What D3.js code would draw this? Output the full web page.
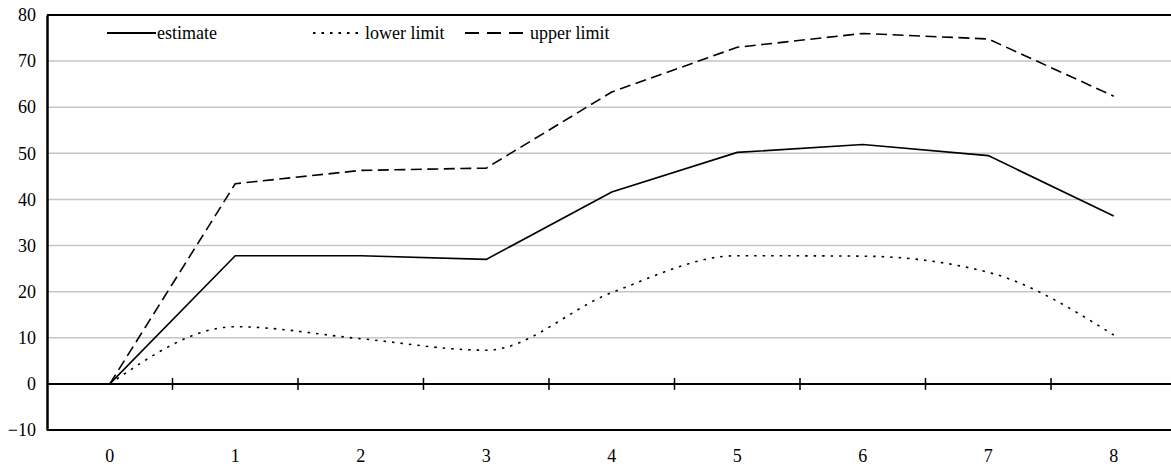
<!DOCTYPE html>
<html>
<head>
<meta charset="utf-8">
<script src="https://cdn.jsdelivr.net/npm/d3@7"></script>
<style>
  html, body { margin: 0; padding: 0; background: #fff; }
  svg { display: block; }
  text { font-family: "Liberation Serif", "Times New Roman", serif; fill: #000; }
</style>
</head>
<body>
<svg id="chart" width="1171" height="466"></svg>
<script>
// Categories along the horizontal axis
const categories = ["0", "1", "2", "3", "4", "5", "6", "7", "8"];

// Series values
const estimate   = [0, 27.8, 27.8, 27.0, 41.6, 50.2, 51.9, 49.5, 36.4];
const lowerLimit = [0, 12.4, 9.8, 7.3, 19.8, 27.8, 27.7, 24.2, 10.6];
const upperLimit = [0, 43.4, 46.3, 46.8, 63.3, 73.0, 76.0, 74.8, 62.4];

// Value-axis ticks
const yTicks = [-10, 0, 10, 20, 30, 40, 50, 60, 70, 80];

(function () {
  const svg = d3.select("#chart");
  const W = 1171;
  const plotLeft = 47, plotTop = 15, plotBottom = 430;
  const band = 125.5;
  const fontFamily = "'Liberation Serif', 'Times New Roman', serif";
  const fontSize = "18px";

  const x = d3.scaleBand()
    .domain(categories)
    .range([plotLeft, plotLeft + band * categories.length])
    .paddingInner(0).paddingOuter(0);
  const cx = c => x(c) + x.bandwidth() / 2;

  const y = d3.scaleLinear().domain([-10, 80]).range([plotBottom, plotTop]);

  // Light horizontal gridlines
  svg.append("g")
    .selectAll("line")
    .data(yTicks.filter(v => v > 0 && v < 80))
    .join("line")
    .attr("x1", plotLeft).attr("x2", W)
    .attr("y1", d => y(d)).attr("y2", d => y(d))
    .attr("stroke", "#c6c6c6").attr("stroke-width", 1.5);

  // Top border and bottom edge of the plot
  svg.append("line")
    .attr("x1", plotLeft).attr("x2", W).attr("y1", y(80)).attr("y2", y(80))
    .attr("stroke", "#000").attr("stroke-width", 2);
  svg.append("line")
    .attr("x1", plotLeft).attr("x2", W).attr("y1", y(-10)).attr("y2", y(-10))
    .attr("stroke", "#000").attr("stroke-width", 2);

  // Vertical axis with labels
  const yAxis = d3.axisLeft(y)
    .tickValues(yTicks)
    .tickSize(0)
    .tickPadding(11)
    .tickFormat(d => d < 0 ? "\u2212" + Math.abs(d) : String(d));
  const gy = svg.append("g")
    .attr("transform", `translate(${plotLeft},0)`)
    .call(yAxis)
    .attr("font-family", fontFamily)
    .attr("font-size", fontSize);
  gy.select(".domain").attr("stroke", "#000").attr("stroke-width", 2.5);
  gy.selectAll("text").attr("fill", "#000");

  // Category axis drawn on the zero line, ticks at band boundaries
  const gx = svg.append("g").attr("transform", `translate(0,${y(0)})`);
  gx.append("line")
    .attr("x1", plotLeft).attr("x2", W).attr("y1", 0).attr("y2", 0)
    .attr("stroke", "#000").attr("stroke-width", 2);
  gx.selectAll("line.tick")
    .data(categories.slice(1))
    .join("line")
    .attr("class", "tick")
    .attr("x1", d => x(d)).attr("x2", d => x(d))
    .attr("y1", -6).attr("y2", 6)
    .attr("stroke", "#000").attr("stroke-width", 1.5);

  // Category labels beneath the plot
  svg.append("g")
    .attr("font-family", fontFamily)
    .attr("font-size", fontSize)
    .selectAll("text")
    .data(categories)
    .join("text")
    .attr("x", d => cx(d))
    .attr("y", 462)
    .attr("text-anchor", "middle")
    .text(d => d);

  // Series lines
  const series = [
    { name: "estimate",    values: estimate,   dash: null,     curve: d3.curveLinear },
    { name: "lower limit", values: lowerLimit, dash: "2.5,6",  curve: d3.curveMonotoneX },
    { name: "upper limit", values: upperLimit, dash: "11,5.5", curve: d3.curveLinear }
  ];

  series.forEach(s => {
    const line = d3.line()
      .x((d, i) => cx(categories[i]))
      .y(d => y(d))
      .curve(s.curve);
    svg.append("path")
      .datum(s.values)
      .attr("d", line)
      .attr("fill", "none")
      .attr("stroke", "#000")
      .attr("stroke-width", 1.6)
      .attr("stroke-dasharray", s.dash);
  });

  // Legend
  const legendItems = [
    { name: "estimate",    dash: null,    x1: 107, x2: 156, tx: 157 },
    { name: "lower limit", dash: "2.5,6", x1: 313, x2: 360, tx: 365 },
    { name: "upper limit", dash: "14,8",  x1: 465, x2: 527, tx: 530 }
  ];
  const lg = svg.append("g")
    .attr("font-family", fontFamily)
    .attr("font-size", fontSize);
  legendItems.forEach(it => {
    lg.append("line")
      .attr("x1", it.x1).attr("x2", it.x2).attr("y1", 33).attr("y2", 33)
      .attr("stroke", "#000").attr("stroke-width", 1.8)
      .attr("stroke-dasharray", it.dash);
    lg.append("text")
      .attr("x", it.tx).attr("y", 39)
      .text(it.name);
  });
})();
</script>
</body>
</html>
